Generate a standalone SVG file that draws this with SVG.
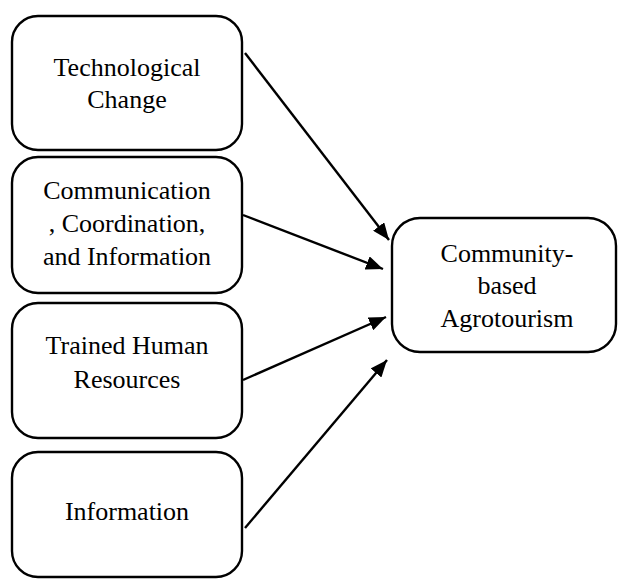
<svg xmlns="http://www.w3.org/2000/svg" width="618" height="579" viewBox="0 0 618 579">
  <style>
    .box { fill: #ffffff; stroke: #000000; stroke-width: 2.4; }
    .label { font-family: 'Liberation Serif', Tinos, 'Times New Roman', Times, 'DejaVu Serif', serif; font-size: 26px; fill: #000000; text-anchor: middle; }
    .link { stroke: #000000; stroke-width: 2.4; fill: none; marker-end: url(#arrow); }
  </style>
  <defs>
    <marker id="arrow" markerUnits="userSpaceOnUse" markerWidth="18" markerHeight="14" refX="17" refY="7" orient="auto">
      <path d="M0,0 L17,7 L0,14 Z" fill="#000000"/>
    </marker>
  </defs>

  <rect width="618" height="579" fill="#ffffff"/>

  <g id="technological-change">
    <rect class="box" x="12" y="16" width="230" height="134" rx="26" ry="26"/>
    <text class="label" font-family="Liberation Serif, serif" x="127" y="76">Technological</text>
    <text class="label" font-family="Liberation Serif, serif" x="127" y="108">Change</text>
  </g>

  <g id="communication">
    <rect class="box" x="12" y="157" width="230" height="136" rx="26" ry="26"/>
    <text class="label" x="127" y="199">Communication</text>
    <text class="label" x="127" y="232">, Coordination,</text>
    <text class="label" x="127" y="265">and Information</text>
  </g>

  <g id="trained-human-resources">
    <rect class="box" x="12" y="303" width="230" height="135" rx="26" ry="26"/>
    <text class="label" x="127" y="354">Trained Human</text>
    <text class="label" x="127" y="388">Resources</text>
  </g>

  <g id="information">
    <rect class="box" x="12" y="452" width="230" height="125" rx="26" ry="26"/>
    <text class="label" x="127" y="520">Information</text>
  </g>

  <g id="community-based-agrotourism">
    <rect class="box" x="392" y="218" width="224" height="134" rx="28" ry="28"/>
    <text class="label" x="507" y="262">Community-</text>
    <text class="label" x="507" y="294">based</text>
    <text class="label" x="507" y="327">Agrotourism</text>
  </g>

  <g id="connectors">
    <line class="link" x1="245" y1="53" x2="389" y2="240"/>
    <line class="link" x1="243" y1="215" x2="383" y2="269"/>
    <line class="link" x1="243" y1="380" x2="386" y2="317"/>
    <line class="link" x1="245" y1="528" x2="387" y2="360"/>
  </g>
</svg>
